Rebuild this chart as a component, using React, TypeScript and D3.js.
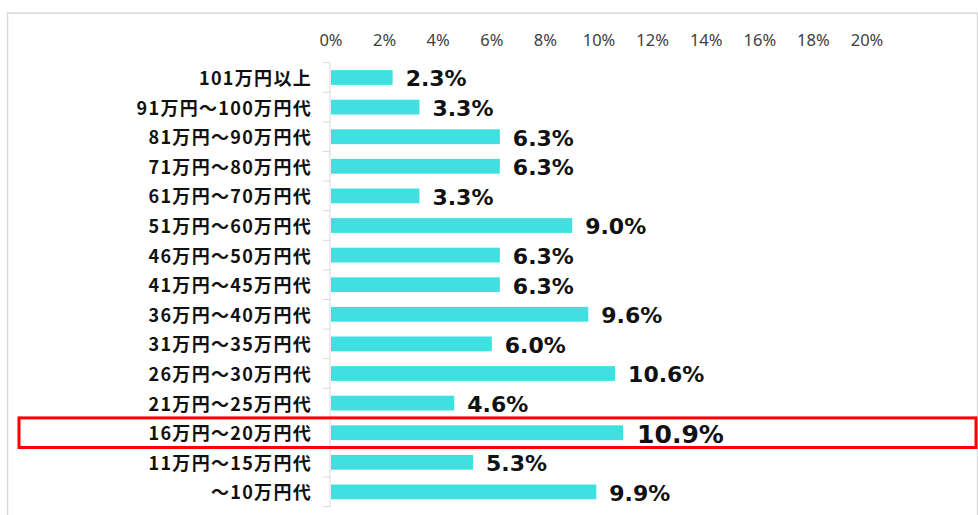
import React from "react";
import * as d3 from "d3";

const categories = [
  "101万円以上",
  "91万円～100万円代",
  "81万円～90万円代",
  "71万円～80万円代",
  "61万円～70万円代",
  "51万円～60万円代",
  "46万円～50万円代",
  "41万円～45万円代",
  "36万円～40万円代",
  "31万円～35万円代",
  "26万円～30万円代",
  "21万円～25万円代",
  "16万円～20万円代",
  "11万円～15万円代",
  "～10万円代",
];
const values = [2.3, 3.3, 6.3, 6.3, 3.3, 9.0, 6.3, 6.3, 9.6, 6.0, 10.6, 4.6, 10.9, 5.3, 9.9];
const ticks = [0, 2, 4, 6, 8, 10, 12, 14, 16, 18, 20];
const highlight = "16万円～20万円代";

const width = 978;
const height = 515;

export default function App() {
  const x = d3.scaleLinear().domain([0, 20]).range([331, 867]);
  const y = d3.scaleBand().domain(categories).range([62.7, 506.7]).paddingInner(0.5).paddingOuter(0.25);
  const step = y.step();
  const top = 62.7;

  const jpFont = "'Noto Sans CJK JP', sans-serif";
  const numFont = "'DejaVu Sans', 'Noto Sans CJK JP', sans-serif";

  return (
    <svg width={width} height={height} style={{ position: "absolute", left: 0, top: 0, background: "#fff" }}>
      {/* outer frame */}
      <rect x={7.5} y={13} width={970} height={520} fill="none" stroke="#d9d9d9" strokeWidth={1.5} />

      {/* top axis labels */}
      {ticks.map((t) => (
        <text key={t} x={x(t)} y={45.5} textAnchor="middle" fontSize={16.5} fill="#404040" fontFamily="'Noto Sans', sans-serif">
          {t}%
        </text>
      ))}

      {/* vertical axis line + ticks */}
      <line x1={330} x2={330} y1={top} y2={top + step * categories.length} stroke="#d9d9d9" strokeWidth={1} />
      {d3.range(categories.length + 1).map((i) => (
        <line key={i} x1={323} x2={330} y1={top + i * step} y2={top + i * step} stroke="#d9d9d9" strokeWidth={1} />
      ))}

      {categories.map((c, i) => {
        const v = values[i];
        const yc = (y(c) as number) + y.bandwidth() / 2;
        const big = c === highlight;
        const fs = big ? 25 : 22;
        return (
          <g key={c}>
            <text x={312} y={yc + 7.5} textAnchor="end" fontSize={18} fontWeight="bold" fill="#111" fontFamily={jpFont} letterSpacing={1.3}>
              {c}
            </text>
            <rect x={x(0)} y={y(c)} width={x(v) - x(0)} height={y.bandwidth()} fill="#40e0e0" />
            <text x={x(v) + (big ? 14 : 13)} y={yc + fs * 0.4} fontSize={fs} fontWeight="bold" fill="#111" fontFamily={numFont}>
              {v.toFixed(1)}%
            </text>
          </g>
        );
      })}

      {/* highlight box */}
      {(() => {
        const yy = y(highlight) as number;
        const yc = yy + y.bandwidth() / 2;
        return <rect x={19} y={yc - 14.8} width={957} height={29.6} fill="none" stroke="#ff0000" strokeWidth={3} />;
      })()}
    </svg>
  );
}
